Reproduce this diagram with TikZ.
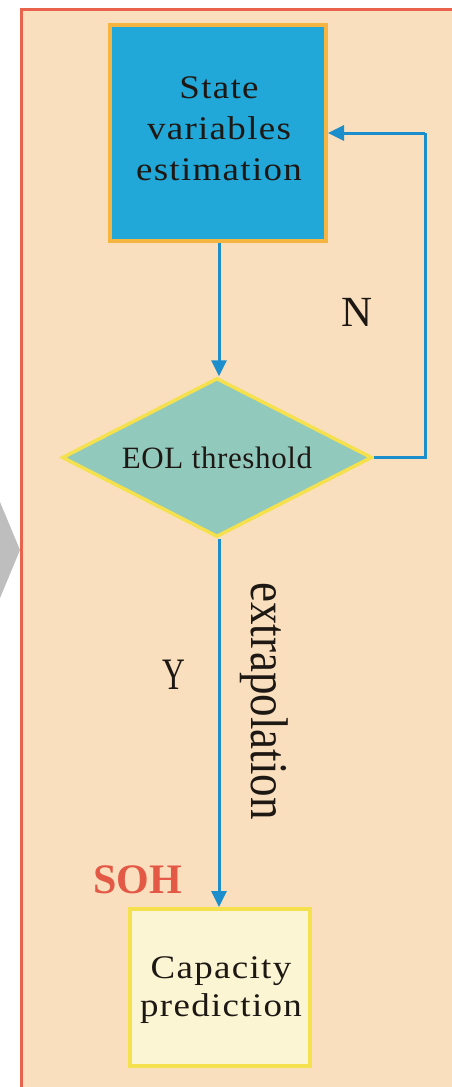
\documentclass[tikz,border=0pt]{standalone}
\usepackage{fontspec}
\setmainfont{Liberation Serif}
\newfontfamily\spacedserif[FakeStretch=1.12,LetterSpace=4]{Liberation Serif}
\newfontfamily\evenserif[LetterSpace=2]{Liberation Serif}
\newfontfamily\narrowserif[FakeStretch=0.85]{Liberation Serif}
\newfontfamily\tallserif[FakeStretch=0.7]{Liberation Serif}
\usetikzlibrary{shapes.geometric,arrows.meta}

\definecolor{panelfill}{RGB}{249,223,189}
\definecolor{panelframe}{RGB}{232,98,76}
\definecolor{estfill}{RGB}{34,168,216}
\definecolor{estframe}{RGB}{246,180,64}
\definecolor{eolfill}{RGB}{146,201,189}
\definecolor{eolframe}{RGB}{245,224,78}
\definecolor{capfill}{RGB}{251,245,212}
\definecolor{flowblue}{RGB}{28,142,204}
\definecolor{sohred}{RGB}{228,88,70}
\definecolor{pointergray}{RGB}{190,190,190}
\definecolor{labelink}{RGB}{30,24,20}

\tikzset{
  stepbox/.style={draw, rectangle, inner sep=0pt, line width=4pt},
  decision/.style={draw=eolframe, fill=eolfill, shape=diamond, inner sep=0pt,
    aspect=1.95, line width=3.5pt, minimum width=310pt, minimum height=159pt,
    text=labelink, font=\evenserif\fontsize{31}{36}\selectfont},
  boxtext/.style={align=center, inner sep=0pt, text=labelink},
  flowarrow/.style={draw=flowblue, line width=3pt,
    -{Triangle[length=16pt,width=15pt]}},
  flowline/.style={draw=flowblue, line width=3pt},
  lbl/.style={inner sep=0pt, text=labelink}
}

\begin{document}
\begin{tikzpicture}[x=1pt,y=-1pt]
  \useasboundingbox (0,0) rectangle (452,1087);
  \fill[white] (0,0) rectangle (452,1087);

  % pointer coming in from the neighbouring panel
  \fill[pointergray] (-10,478) -- (20,550) -- (-10,622) -- cycle;

  % panel
  \draw[panelframe, fill=panelfill, line width=3pt] (21,9) rectangle (480,1110);

  % process blocks
  \node[stepbox, draw=estframe, fill=estfill, minimum width=216pt, minimum height=216pt]
    (est) at (218,133) {};
  \node[boxtext, font=\spacedserif\fontsize{33}{41}\selectfont]
    (esttext) at (219,128.5) {State\\variables\\estimation};

  \node[decision] (eol) at (217,457.5) {EOL threshold};

  \node[stepbox, draw=eolframe, fill=capfill, minimum width=180pt, minimum height=157pt]
    (cap) at (220,987.5) {};
  \node[boxtext, font=\spacedserif\fontsize{33}{38}\selectfont]
    (captext) at (221,990.5) {Capacity\\prediction};

  % feedback corner
  \coordinate (loopbot) at (425,457.5);
  \coordinate (looptop) at (425,133);

  % connectors
  \draw[flowarrow] (est.south -| 219,0) -- (eol.north -| 219,0);
  \draw[flowline] (eol.east) -- (loopbot) -- (looptop);
  \draw[flowarrow] (looptop) -- (est.east);
  \draw[flowarrow] (eol.south -| 219,0) -- (cap.north -| 219,0);

  % labels
  \node[lbl, anchor=base, font=\fontsize{43}{48}\selectfont] (nlabel) at (357.5,326) {N};
  \node[lbl, anchor=base, font=\tallserif\fontsize{45}{50}\selectfont] (ylabel) at (174,689) {Y};
  \node[lbl, anchor=base, rotate=-90, font=\narrowserif\fontsize{53}{58}\selectfont]
    (extrap) at (251,701) {extrapolation};
  \node[lbl, anchor=base, text=sohred, font=\bfseries\fontsize{42}{46}\selectfont]
    (soh) at (137.5,893) {SOH};
\end{tikzpicture}
\end{document}
